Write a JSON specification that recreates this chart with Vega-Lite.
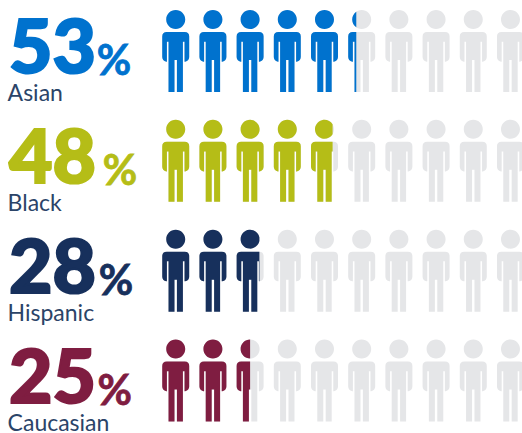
{
  "$schema": "https://vega.github.io/schema/vega-lite/v6.json",
  "width": 522,
  "height": 433,
  "padding": 0,
  "autosize": {"type": "none"},
  "background": "white",
  "config": {"view": {"stroke": null}},
  "datasets": {
    "groups": [
      {"group": "Asian", "value": 53},
      {"group": "Black", "value": 48},
      {"group": "Hispanic", "value": 28},
      {"group": "Caucasian", "value": 25}
    ],
    "people": [
      {"group":"Asian","person":1,"fill":"whole"},{"group":"Asian","person":2,"fill":"whole"},{"group":"Asian","person":3,"fill":"whole"},{"group":"Asian","person":4,"fill":"whole"},{"group":"Asian","person":5,"fill":"whole"},{"group":"Asian","person":6,"fill":"tenths3"},{"group":"Asian","person":7,"fill":"none"},{"group":"Asian","person":8,"fill":"none"},{"group":"Asian","person":9,"fill":"none"},{"group":"Asian","person":10,"fill":"none"},
      {"group":"Black","person":1,"fill":"whole"},{"group":"Black","person":2,"fill":"whole"},{"group":"Black","person":3,"fill":"whole"},{"group":"Black","person":4,"fill":"whole"},{"group":"Black","person":5,"fill":"tenths8"},{"group":"Black","person":6,"fill":"none"},{"group":"Black","person":7,"fill":"none"},{"group":"Black","person":8,"fill":"none"},{"group":"Black","person":9,"fill":"none"},{"group":"Black","person":10,"fill":"none"},
      {"group":"Hispanic","person":1,"fill":"whole"},{"group":"Hispanic","person":2,"fill":"whole"},{"group":"Hispanic","person":3,"fill":"tenths8plus"},{"group":"Hispanic","person":4,"fill":"none"},{"group":"Hispanic","person":5,"fill":"none"},{"group":"Hispanic","person":6,"fill":"none"},{"group":"Hispanic","person":7,"fill":"none"},{"group":"Hispanic","person":8,"fill":"none"},{"group":"Hispanic","person":9,"fill":"none"},{"group":"Hispanic","person":10,"fill":"none"},
      {"group":"Caucasian","person":1,"fill":"whole"},{"group":"Caucasian","person":2,"fill":"whole"},{"group":"Caucasian","person":3,"fill":"tenths5"},{"group":"Caucasian","person":4,"fill":"none"},{"group":"Caucasian","person":5,"fill":"none"},{"group":"Caucasian","person":6,"fill":"none"},{"group":"Caucasian","person":7,"fill":"none"},{"group":"Caucasian","person":8,"fill":"none"},{"group":"Caucasian","person":9,"fill":"none"},{"group":"Caucasian","person":10,"fill":"none"}
    ]
  },
  "encoding": {
    "y": {
      "field": "group",
      "type": "nominal",
      "axis": null,
      "scale": {"type": "point", "domain": ["Asian", "Black", "Hispanic", "Caucasian"], "range": [51, 380.5], "padding": 0}
    }
  },
  "layer": [
    {
      "data": {"name": "people"},
      "mark": {
        "type": "point",
        "filled": true,
        "opacity": 1,
        "strokeWidth": 0,
        "size": 4,
        "color": "#e5e6e8",
        "shape": "M-9.5 -31.5A9.5 9.5 0 1 1 9.5 -31.5A9.5 9.5 0 1 1 -9.5 -31.5ZM-9 -19L9 -19Q13.5 -19 13.5 -14.5L13.5 6Q13.5 9.5 9.5 10.7L8.8 10.7L8.8 -9.3L7.2 -9.3L7.2 41L1.2 41L1.2 9L-1.2 9L-1.2 41L-7.2 41L-7.2 -9.3L-8.8 -9.3L-8.8 10.7L-9.5 10.7Q-13.5 9.5 -13.5 6L-13.5 -14.5Q-13.5 -19 -9 -19Z"
      },
      "encoding": {
        "x": {"field": "person", "type": "quantitative", "axis": null, "scale": {"domain": [-3.724, 10.31], "nice": false, "zero": false}}
      }
    },
    {
      "data": {"name": "people"},
      "transform": [{"filter": "datum.fill !== 'none'"}],
      "mark": {"type": "point", "filled": true, "opacity": 1, "strokeWidth": 0, "size": 4},
      "encoding": {
        "x": {"field": "person", "type": "quantitative"},
        "color": {
          "field": "group",
          "type": "nominal",
          "legend": null,
          "scale": {"domain": ["Asian", "Black", "Hispanic", "Caucasian"], "range": ["#0072ce", "#b5bd17", "#17305c", "#7f1d41"]}
        },
        "shape": {
          "field": "fill",
          "type": "nominal",
          "legend": null,
          "scale": {
            "domain": ["whole", "tenths3", "tenths5", "tenths8", "tenths8plus"],
            "range": [
              "M-9.5 -31.5A9.5 9.5 0 1 1 9.5 -31.5A9.5 9.5 0 1 1 -9.5 -31.5ZM-9 -19L9 -19Q13.5 -19 13.5 -14.5L13.5 6Q13.5 9.5 9.5 10.7L8.8 10.7L8.8 -9.3L7.2 -9.3L7.2 41L1.2 41L1.2 9L-1.2 9L-1.2 41L-7.2 41L-7.2 -9.3L-8.8 -9.3L-8.8 10.7L-9.5 10.7Q-13.5 9.5 -13.5 6L-13.5 -14.5Q-13.5 -19 -9 -19Z",
              "M-5.4 -39.32A9.5 9.5 0 0 0 -5.4 -23.68ZM-5.4 -19L-9 -19Q-13.5 -19 -13.5 -14.5L-13.5 6Q-13.5 9.5 -9.5 10.7L-8.8 10.7L-8.8 -9.3L-7.2 -9.3L-7.2 41L-5.4 41Z",
              "M0 -41A9.5 9.5 0 0 0 0 -22ZM0 -19L-9 -19Q-13.5 -19 -13.5 -14.5L-13.5 6Q-13.5 9.5 -9.5 10.7L-8.8 10.7L-8.8 -9.3L-7.2 -9.3L-7.2 41L-1.2 41L-1.2 9L0 9Z",
              "M8.1 -36.46A9.5 9.5 0 1 0 8.1 -26.54ZM8.1 -19L-9 -19Q-13.5 -19 -13.5 -14.5L-13.5 6Q-13.5 9.5 -9.5 10.7L-8.8 10.7L-8.8 -9.3L-7.2 -9.3L-7.2 41L-1.2 41L-1.2 9L1.2 9L1.2 41L7.2 41L7.2 -9.3L8.1 -9.3Z",
              "M9.3 -33.44A9.5 9.5 0 1 0 9.3 -29.56ZM9.3 -19L-9 -19Q-13.5 -19 -13.5 -14.5L-13.5 6Q-13.5 9.5 -9.5 10.7L-8.8 10.7L-8.8 -9.3L-7.2 -9.3L-7.2 41L-1.2 41L-1.2 9L1.2 9L1.2 41L7.2 41L7.2 -9.3L8.8 -9.3L8.8 10.7L9.3 10.7Z"
            ]
          }
        }
      }
    },
    {
      "data": {"name": "groups"},
      "mark": {"type": "text", "font": "Lato", "fontWeight": 900, "fontSize": 75, "strokeWidth": 2.2, "align": "left", "baseline": "alphabetic", "dy": 22},
      "encoding": {
        "x": {"datum": -3.48},
        "text": {"field": "value", "type": "quantitative"},
        "color": {"field": "group", "type": "nominal", "legend": null},
        "stroke": {"field": "group", "type": "nominal", "legend": null, "scale": {"domain": ["Asian", "Black", "Hispanic", "Caucasian"], "range": ["#0072ce", "#b5bd17", "#17305c", "#7f1d41"]}}
      }
    },
    {
      "data": {"name": "groups"},
      "mark": {"type": "text", "font": "Lato", "fontWeight": 400, "fontSize": 23, "align": "left", "baseline": "alphabetic", "dy": 50, "color": "#2b4468"},
      "encoding": {
        "x": {"datum": -3.52},
        "text": {"field": "group", "type": "nominal"}
      }
    },
    {
      "data": {"name": "groups"},
      "transform": [{"filter": "datum.group === 'Asian'"}],
      "mark": {"type": "text", "font": "Lato", "fontWeight": 700, "fontSize": 42, "strokeWidth": 0.8, "align": "left", "baseline": "alphabetic", "dy": 24, "text": "%"},
      "encoding": {
        "x": {"datum": -1.12},
        "color": {"field": "group", "type": "nominal", "legend": null},
        "stroke": {"field": "group", "type": "nominal", "legend": null}
      }
    },
    {
      "data": {"name": "groups"},
      "transform": [{"filter": "datum.group === 'Black'"}],
      "mark": {"type": "text", "font": "Lato", "fontWeight": 700, "fontSize": 42, "strokeWidth": 0.8, "align": "left", "baseline": "alphabetic", "dy": 24, "text": "%"},
      "encoding": {
        "x": {"datum": -0.96},
        "color": {"field": "group", "type": "nominal", "legend": null},
        "stroke": {"field": "group", "type": "nominal", "legend": null}
      }
    },
    {
      "data": {"name": "groups"},
      "transform": [{"filter": "datum.group === 'Hispanic'"}],
      "mark": {"type": "text", "font": "Lato", "fontWeight": 700, "fontSize": 42, "strokeWidth": 0.8, "align": "left", "baseline": "alphabetic", "dy": 24, "text": "%"},
      "encoding": {
        "x": {"datum": -1.07},
        "color": {"field": "group", "type": "nominal", "legend": null},
        "stroke": {"field": "group", "type": "nominal", "legend": null}
      }
    },
    {
      "data": {"name": "groups"},
      "transform": [{"filter": "datum.group === 'Caucasian'"}],
      "mark": {"type": "text", "font": "Lato", "fontWeight": 700, "fontSize": 42, "strokeWidth": 0.8, "align": "left", "baseline": "alphabetic", "dy": 24, "text": "%"},
      "encoding": {
        "x": {"datum": -1.1},
        "color": {"field": "group", "type": "nominal", "legend": null},
        "stroke": {"field": "group", "type": "nominal", "legend": null}
      }
    }
  ]
}
